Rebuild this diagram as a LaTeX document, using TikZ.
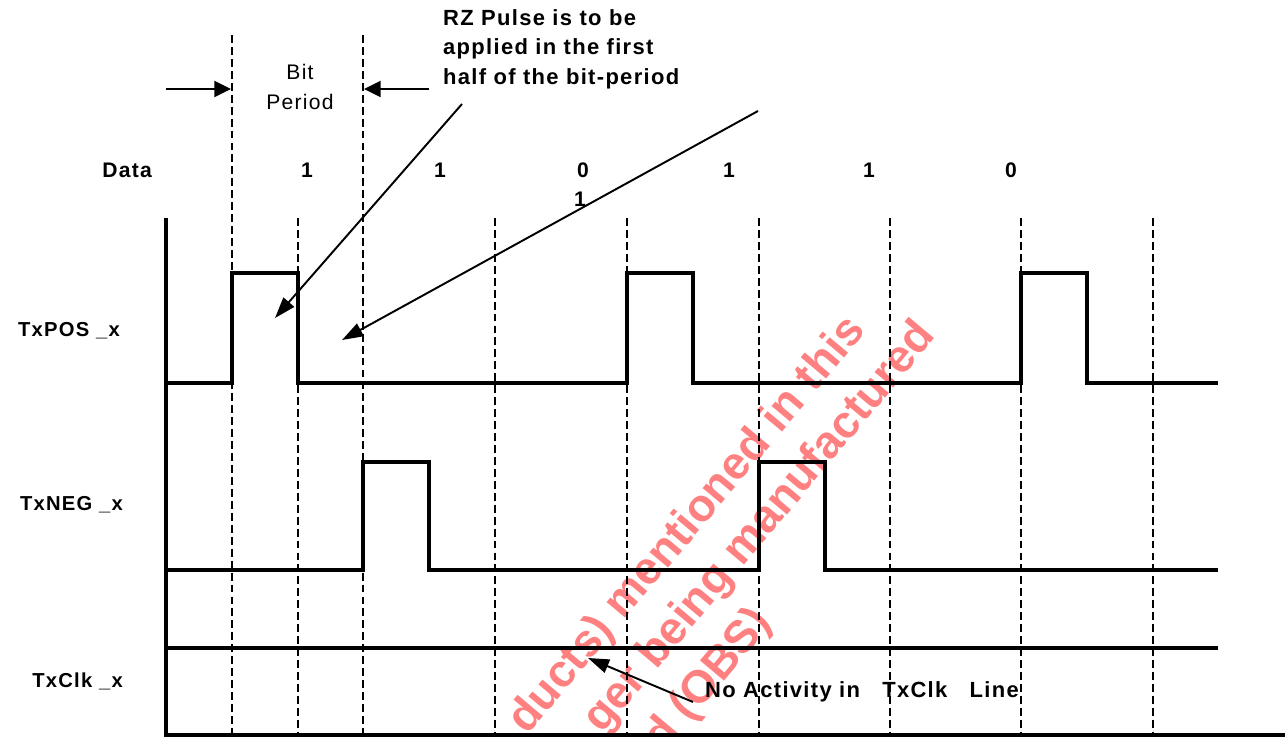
\documentclass[tikz,border=0pt]{standalone}
\usepackage{fontspec}
\setmainfont{Liberation Sans}
\newfontfamily\spacedfont{Liberation Sans}[LetterSpace=6]
\usetikzlibrary{arrows.meta}

\begin{document}
\begin{tikzpicture}[x=0.02cm,y=-0.02cm,
  sig/.style={line width=2.6pt,line join=miter},
  grid/.style={line width=0.7pt,dash pattern=on 4.5pt off 2.3pt},
  lbl/.style={font=\spacedfont\fontsize{12}{17}\selectfont\bfseries},
  signame/.style={font=\spacedfont\fontsize{11.5}{17}\selectfont\bfseries,anchor=east},
  remark/.style={font=\spacedfont\fontsize{12.5}{17}\selectfont\bfseries},
  note/.style={line width=1.1pt,-{Triangle[length=12pt,width=8pt]}},
  bitarr/.style={line width=1.7pt,-{Triangle[length=9.5pt,width=9pt]}},
  wmark/.style={font=\fontsize{26}{30}\selectfont\bfseries,text=red!50,
    rotate=50,anchor=base east,inner sep=0pt}]
  \useasboundingbox (0,0) rectangle (1285,737);

  % watermark, cut at the page edge
  \begin{scope}
    \clip (0,0) rectangle (1285,737);
    \node[wmark] (wm1) at (867,331) {ducts) mentioned in this};
    \node[wmark] (wm2) at (937,336) {ger being manufactured};
    \node[wmark] (wm3) at (773,623) {d (OBS)};
  \end{scope}

  % bit boundaries
  \foreach \x in {232,363}
    \draw[grid] (\x,35) -- (\x,735);
  \foreach \x in {298,495,627,759,890,1021,1153}
    \draw[grid] (\x,218) -- (\x,735);

  % axes
  \draw[line width=2.3pt,line join=miter] (166,218) -- (166,735) -- (1285,735);

  % signals
  \draw[sig] (166,383) -- (232,383) -- (232,273) -- (298,273) -- (298,383)
    -- (627,383) -- (627,273) -- (693,273) -- (693,383)
    -- (1021,383) -- (1021,273) -- (1087,273) -- (1087,383) -- (1218,383);
  \draw[sig] (166,570) -- (363,570) -- (363,462) -- (429,462) -- (429,570)
    -- (759,570) -- (759,462) -- (825,462) -- (825,570) -- (1218,570);
  \draw[sig] (166,648) -- (1218,648);

  % signal names
  \node[lbl,anchor=east] (data) at (158,170) {Data};
  \node[signame] (txpos) at (126,331) {TxPOS \_x};
  \node[signame] (txneg) at (129,505) {TxNEG \_x};
  \node[signame] (txclk) at (129,681) {TxClk \_x};

  % data bits
  \node[lbl] (b1)  at (307,170) {1};
  \node[lbl] (b2)  at (440,170) {1};
  \node[lbl] (b3)  at (583,170) {0};
  \node[lbl] (b3x) at (580,199) {1};
  \node[lbl] (b4)  at (729,170) {1};
  \node[lbl] (b5)  at (869,170) {1};
  \node[lbl] (b6)  at (1011,170) {0};

  % bit period
  \node[align=center,font=\spacedfont\fontsize{12}{17}\selectfont] (bp) at (300,87) {Bit\\Period};
  \coordinate (bpL) at (166,89);
  \coordinate (bpLtip) at (231,89);
  \coordinate (bpR) at (429,89);
  \coordinate (bpRtip) at (364,89);
  \draw[bitarr] (bpL) -- (bpLtip);
  \draw[bitarr] (bpR) -- (bpRtip);

  % callouts
  \node[remark,align=left,anchor=north west] (rz) at (437,3)
    {RZ Pulse is to be\\applied in the first\\half of the bit-period};
  \coordinate (rztail) at (462,104);
  \coordinate (rztip)  at (275,318);
  \draw[note] (rztail) -- (rztip);
  \coordinate (gaptail) at (758,111);
  \coordinate (gaptip)  at (342,340);
  \draw[note] (gaptail) -- (gaptip);

  \node[remark,anchor=west] (noact) at (699,692) {No Activity in\ \ \ TxClk\ \ \ Line};
  \coordinate (clktail) at (693,702);
  \coordinate (clktip)  at (588,658);
  \draw[note] (clktail) -- (clktip);
\end{tikzpicture}
\end{document}
